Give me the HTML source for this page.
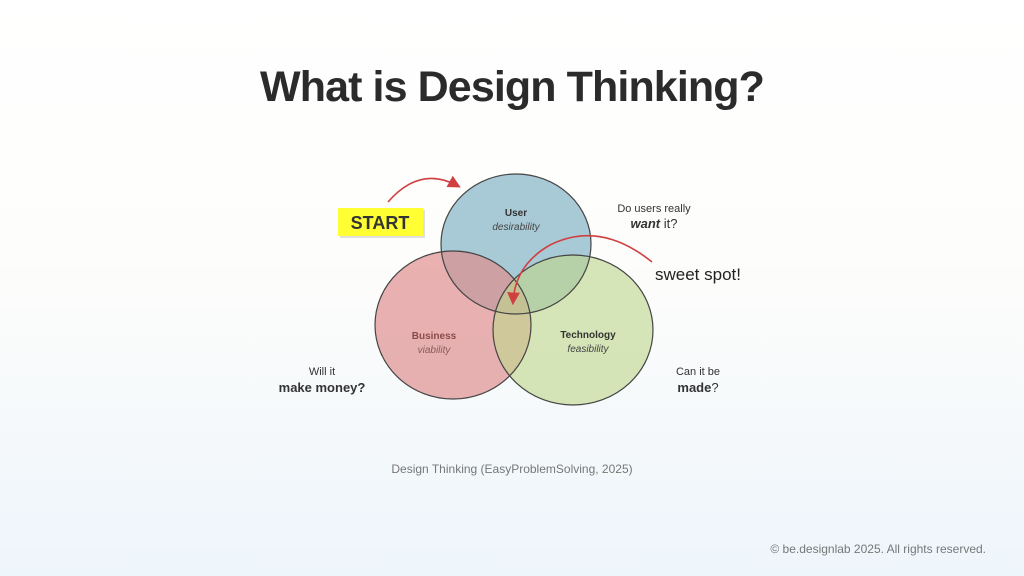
<!DOCTYPE html>
<html><head><meta charset="utf-8"><style>
body{margin:0;width:1024px;height:576px;overflow:hidden;font-family:"Liberation Sans",sans-serif;background:linear-gradient(#ffffff 0%,#fdfdfb 45%,#eef5fb 100%);position:relative}
.t{position:absolute;white-space:nowrap}
</style></head><body>
<div class="t" style="left:0;width:1024px;text-align:center;top:63px;font-size:43px;font-weight:bold;color:#2b2b2b;letter-spacing:-0.9px">What is Design Thinking?</div>
<svg width="1024" height="576" style="position:absolute;left:0;top:0">
<defs><marker id="a" markerWidth="8" markerHeight="8" refX="6" refY="4" orient="auto"><path d="M0,0 L8,4 L0,8 z" fill="#d04040"/></marker></defs>
<rect x="340" y="210" width="85" height="28" fill="#ccc" opacity="0.6"/>
<rect x="338" y="208" width="85" height="28" fill="#ffff33"/>
<text x="380" y="229" font-size="18" font-weight="bold" fill="#333" text-anchor="middle" font-family="Liberation Sans">START</text>
<ellipse cx="516" cy="244" rx="75" ry="70" fill="#a8c9d6"/>
<ellipse cx="453" cy="325" rx="78" ry="74" fill="rgba(222,140,140,0.68)"/>
<ellipse cx="573" cy="330" rx="80" ry="75" fill="rgba(190,214,140,0.62)"/>
<ellipse cx="516" cy="244" rx="75" ry="70" fill="none" stroke="#444" stroke-width="1.2"/>
<ellipse cx="453" cy="325" rx="78" ry="74" fill="none" stroke="#444" stroke-width="1.2"/>
<ellipse cx="573" cy="330" rx="80" ry="75" fill="none" stroke="#444" stroke-width="1.2"/>
<path d="M388,202 Q420,165 458,186" fill="none" stroke="#d04040" stroke-width="1.6" marker-end="url(#a)"/>
<path d="M652,262 Q600,220 550,245 Q515,265 513,302" fill="none" stroke="#d04040" stroke-width="1.6" marker-end="url(#a)"/>
<g font-family="Liberation Sans">
<text x="516" y="216" font-size="10" font-weight="bold" fill="#333" text-anchor="middle">User</text>
<text x="516" y="230" font-size="10" font-style="italic" fill="#444" text-anchor="middle">desirability</text>
<text x="434" y="339" font-size="10" font-weight="bold" fill="#8a4a4a" text-anchor="middle">Business</text>
<text x="434" y="353" font-size="10" font-style="italic" fill="#8a5a5a" text-anchor="middle">viability</text>
<text x="588" y="338" font-size="10" font-weight="bold" fill="#333" text-anchor="middle">Technology</text>
<text x="588" y="352" font-size="10" font-style="italic" fill="#444" text-anchor="middle">feasibility</text>
<text x="654" y="212" font-size="11" fill="#333" text-anchor="middle">Do users really</text>
<text x="654" y="228" font-size="13" fill="#333" text-anchor="middle"><tspan font-weight="bold" font-style="italic">want</tspan> it?</text>
<text x="655" y="280" font-size="17" fill="#222">sweet spot!</text>
<text x="322" y="375" font-size="11" fill="#333" text-anchor="middle">Will it</text>
<text x="322" y="392" font-size="13" font-weight="bold" fill="#333" text-anchor="middle">make money?</text>
<text x="698" y="375" font-size="11" fill="#333" text-anchor="middle">Can it be</text>
<text x="698" y="392" font-size="13" fill="#333" text-anchor="middle"><tspan font-weight="bold">made</tspan>?</text>
</g>
</svg>
<div class="t" style="left:0;width:1024px;text-align:center;top:462px;font-size:12px;color:#777">Design Thinking (EasyProblemSolving, 2025)</div>
<div class="t" style="right:38px;top:542px;font-size:12px;color:#777">© be.designlab 2025. All rights reserved.</div>
</body></html>
